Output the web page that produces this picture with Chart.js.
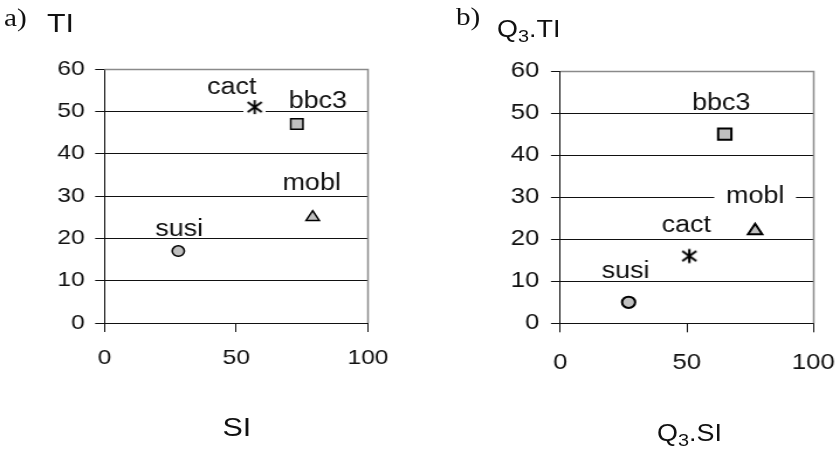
<!DOCTYPE html>
<html>
<head>
<meta charset="utf-8">
<script src="https://cdn.jsdelivr.net/npm/chart.js@4.4.0/dist/chart.umd.min.js"></script>
<style>
  html, body { margin: 0; padding: 0; background: #fff; overflow: hidden; }
  #page { position: absolute; left: 0; top: 0; height: 450px; transform-origin: 0 0; }
  #page canvas { position: absolute; top: 0; }
  .t { position: absolute; white-space: nowrap; line-height: 1; color: #111;
       font-family: "Liberation Sans", Arial, sans-serif; }
  .serif { font-family: "Liberation Serif", "Times New Roman", serif; color: #111; }
  .t sub { font-size: 17px; vertical-align: baseline; position: relative; top: 5px; }
</style>
</head>
<body>
<div id="page">
  <canvas id="chartA"></canvas>
  <canvas id="chartB"></canvas>
  <div class="t serif" id="tagA">a)</div>
  <div class="t" id="yTitleA">TI</div>
  <div class="t" id="xTitleA">SI</div>
  <div class="t serif" id="tagB">b)</div>
  <div class="t" id="yTitleB">Q<sub>3</sub>.TI</div>
  <div class="t" id="xTitleB">Q<sub>3</sub>.SI</div>
</div>
<script>
// sites, in the order Excel listed the series
const sites = ['susi', 'cact', 'bbc3', 'mobl'];

// panel a) raw indices
const siA = [28, 57, 73, 79];
const tiA = [17, 51, 47, 25];

// panel b) Q3 indices
const siB = [27, 51, 65, 77];
const tiB = [5, 16, 45, 22];

const xTickValues = [0, 50, 100];
const yTickValues = [0, 10, 20, 30, 40, 50, 60];

// the original figure is a little wider than it is tall, so draw narrow and stretch
const S = 1.17;
const u = v => v / S;

const page = document.getElementById('page');
page.style.width = u(838) + 'px';
page.style.transform = 'scaleX(' + S + ')';

function placeText(id, x, baseline, size, serif) {
  const el = document.getElementById(id);
  el.style.fontSize = size + 'px';
  el.style.left = u(x) + 'px';
  el.style.top = (baseline - (serif ? 0.8375 : 0.8465) * size) + 'px';
}
placeText('tagA', 4, 26, 25, true);
placeText('yTitleA', 47, 31.7, 26);
placeText('xTitleA', 222.5, 436.5, 26);
placeText('tagB', 456, 24.5, 25, true);
placeText('yTitleB', 497, 37, 23);
placeText('xTitleB', 657, 441, 23);

function starMarker(w, h, rx, ry, lw) {
  const c = document.createElement('canvas');
  c.width = w;
  c.height = h;
  const g = c.getContext('2d');
  g.fillStyle = '#fff';
  g.fillRect(0, 0, w, h);
  g.strokeStyle = '#000';
  g.lineWidth = lw;
  const cx = w / 2, cy = h / 2;
  g.beginPath();
  g.moveTo(cx, cy - ry); g.lineTo(cx, cy + ry);
  g.moveTo(cx - rx, cy - ry * 0.72); g.lineTo(cx + rx, cy + ry * 0.72);
  g.moveTo(cx + rx, cy - ry * 0.72); g.lineTo(cx - rx, cy + ry * 0.72);
  g.stroke();
  return c;
}

// grey frame on top and right, like the Excel plot area
const plotFrame = {
  id: 'plotFrame',
  beforeDatasetsDraw(chart) {
    const {ctx, chartArea: a} = chart;
    ctx.save();
    ctx.strokeStyle = '#8a8a8a';
    ctx.lineWidth = 1.5;
    ctx.beginPath();
    ctx.moveTo(a.left, Math.floor(a.top) + 0.5);
    ctx.lineTo(Math.floor(a.right) + 0.5, Math.floor(a.top) + 0.5);
    ctx.lineTo(Math.floor(a.right) + 0.5, a.bottom);
    ctx.stroke();
    ctx.restore();
  }
};

// series names written next to the markers
const siteLabels = {
  id: 'siteLabels',
  afterDatasetsDraw(chart, args, opts) {
    const {ctx} = chart;
    ctx.save();
    ctx.font = opts.size + 'px "Liberation Sans", Arial, sans-serif';
    ctx.textAlign = 'center';
    ctx.textBaseline = 'alphabetic';
    chart.data.datasets.forEach((ds, i) => {
      const pt = chart.getDatasetMeta(i).data[0];
      const [dx, dy] = opts.shift[i];
      const x = pt.x + u(dx), y = pt.y + dy;
      if (opts.mask[i]) {
        const w = ctx.measureText(ds.label).width + 20;
        ctx.fillStyle = '#fff';
        ctx.fillRect(x - w / 2, y - opts.size * 0.85, w, opts.size * 1.1);
      }
      ctx.fillStyle = '#111';
      ctx.fillText(ds.label, x, y);
    });
    ctx.restore();
  }
};

function buildChart(id, canvasLeft, canvasWidth, area, xs, ys, look) {
  const canvas = document.getElementById(id);
  canvas.width = canvasWidth;
  canvas.height = 450;
  canvas.style.left = canvasLeft + 'px';
  const yAxisW = u(area.left) - canvasLeft;
  const padRight = canvasLeft + canvasWidth - u(area.right);
  const tickFont = {family: '"Liberation Sans", Arial, sans-serif', size: look.tickSize};

  return new Chart(canvas, {
    type: 'scatter',
    data: {
      datasets: sites.map((name, i) => ({
        label: name,
        data: [{x: xs[i], y: ys[i]}],
        pointStyle: look.style[i],
        pointRadius: look.radius[i],
        pointBorderWidth: look.border,
        pointBackgroundColor: '#c0c0c0',
        pointBorderColor: '#000',
        showLine: false
      }))
    },
    plugins: [plotFrame, siteLabels],
    options: {
      responsive: false,
      animation: false,
      events: [],
      layout: {padding: {left: 0, right: padRight, top: area.top, bottom: 0}},
      plugins: {
        legend: {display: false},
        tooltip: {enabled: false},
        siteLabels: {size: look.labelSize, shift: look.shift, mask: look.mask}
      },
      scales: {
        x: {
          type: 'linear',
          min: 0,
          max: 100,
          afterBuildTicks: s => { s.ticks = xTickValues.map(v => ({value: v})); },
          afterFit: s => {
            s.height = 450 - area.bottom;
            // the layout padding already leaves room for the end labels
            s.paddingLeft = 0;
            s.paddingRight = 0;
          },
          grid: {drawOnChartArea: false, color: '#111', lineWidth: 1, tickLength: 9},
          border: {color: '#111', width: 1},
          ticks: {font: tickFont, color: '#111', padding: look.xPad, maxRotation: 0, autoSkip: false}
        },
        y: {
          type: 'linear',
          min: 0,
          max: 60,
          afterBuildTicks: s => { s.ticks = yTickValues.map(v => ({value: v})); },
          afterFit: s => {
            s.width = yAxisW;
            s.paddingTop = 0;
            s.paddingBottom = 0;
          },
          grid: {color: '#111', lineWidth: 1, tickLength: 8},
          border: {color: '#111', width: 1},
          ticks: {font: tickFont, color: '#111', padding: look.yPad, autoSkip: false}
        }
      }
    }
  });
}

const half = Math.round(u(419));

buildChart('chartA', 0, half,
  {left: 104.5, right: 368, top: 69, bottom: 323},
  siA, tiA,
  {
    style: ['circle', starMarker(19, 16, 6, 7, 1.9), 'rect', 'triangle'],
    radius: [5.2, 7, 7.4, 6.5],
    border: 1.5,
    tickSize: 21,
    labelSize: 23,
    xPad: 14,
    yPad: 9,
    shift: [[1, -15], [-23, -13], [21, -16], [-1, -27.5]],
    mask: [false, false, false, false]
  });

buildChart('chartB', half, Math.ceil(u(838)) - half,
  {left: 560.3, right: 813.3, top: 71, bottom: 323.3},
  siB, tiB,
  {
    style: ['circle', starMarker(16, 17, 6, 7, 2.1), 'rect', 'triangle'],
    radius: [5.6, 7, 8, 7],
    border: 2,
    tickSize: 22,
    labelSize: 23,
    xPad: 17,
    yPad: 10,
    shift: [[-3, -24.5], [-3, -24.5], [-3.5, -24.5], [0, -27.3]],
    mask: [false, false, false, true]
  });
</script>
</body>
</html>
